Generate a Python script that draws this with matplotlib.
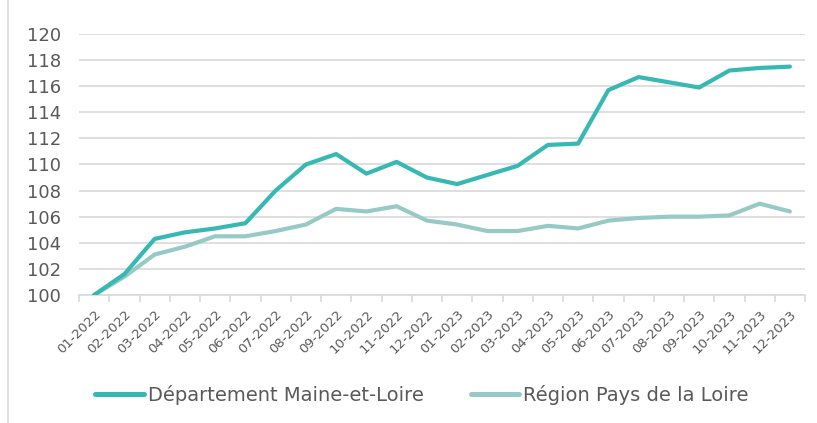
import matplotlib
matplotlib.use("Agg")
import matplotlib.pyplot as plt
from matplotlib.lines import Line2D
import numpy as np

months = ["01-2022", "02-2022", "03-2022", "04-2022", "05-2022", "06-2022",
          "07-2022", "08-2022", "09-2022", "10-2022", "11-2022", "12-2022",
          "01-2023", "02-2023", "03-2023", "04-2023", "05-2023", "06-2023",
          "07-2023", "08-2023", "09-2023", "10-2023", "11-2023", "12-2023"]
dept = [100.0, 101.6, 104.3, 104.8, 105.1, 105.5, 108.0, 110.0, 110.8, 109.3, 110.2, 109.0,
        108.5, 109.2, 109.9, 111.5, 111.6, 115.7, 116.7, 116.3, 115.9, 117.2, 117.4, 117.5]
region = [100.0, 101.4, 103.1, 103.7, 104.5, 104.5, 104.9, 105.4, 106.6, 106.4, 106.8, 105.7,
          105.4, 104.9, 104.9, 105.3, 105.1, 105.7, 105.9, 106.0, 106.0, 106.1, 107.0, 106.4]
yticks = [100, 102, 104, 106, 108, 110, 112, 114, 116, 118, 120]

c_dept = "#36B8B3"
c_reg = "#97CAC6"
txt = "#595959"
grid = "#D9D9D9"

fig = plt.figure(figsize=(8.17, 4.23), dpi=100)
ax = fig.add_axes([79/817, 1-295/423, (805-79)/817, (295-34)/423])

x = np.arange(len(months))
ax.plot(x, region, color=c_reg, lw=3.0, solid_capstyle="round", solid_joinstyle="round", zorder=3,
        label="Région Pays de la Loire")
ax.plot(x, dept, color=c_dept, lw=3.0, solid_capstyle="round", solid_joinstyle="round", zorder=4,
        label="Département Maine-et-Loire")

ax.set_xlim(-0.5, len(months) - 0.5)
ax.set_ylim(100, 120)
ax.set_yticks(yticks)
ax.set_yticklabels([str(v) for v in yticks], fontsize=13, color=txt)
for v in yticks:
    ax.axhline(v, color=grid, lw=1.2, zorder=1)

ax.set_xticks(x)
ax.set_xticklabels(months, rotation=45, ha="right", va="top", rotation_mode="anchor",
                   fontsize=9.5, color=txt)
ax.tick_params(axis="x", length=0, pad=9)
ax.set_xticks(np.arange(len(months) + 1) - 0.5, minor=True)
ax.tick_params(axis="x", which="minor", length=5, color=grid, width=1.2)
ax.tick_params(axis="y", length=0, pad=13)

for s in ["top", "right", "left"]:
    ax.spines[s].set_visible(False)
ax.spines["bottom"].set_color(grid)
ax.spines["bottom"].set_linewidth(1.2)

handles = [Line2D([0], [0], color=c_dept, lw=3.6, solid_capstyle="round"),
           Line2D([0], [0], color=c_reg, lw=3.6, solid_capstyle="round")]
fig.legend(handles, ["Département Maine-et-Loire", "Région Pays de la Loire"],
           loc="center", bbox_to_anchor=(422/817, 1-395/423), ncol=2, frameon=False,
           fontsize=14, labelcolor=txt, handlelength=2.5, handletextpad=0.2,
           columnspacing=2.4)

fig.add_artist(Line2D([8/817, 8/817], [0, 1], transform=fig.transFigure, color=grid, lw=1.2))

fig.savefig("out.png", dpi=100)
